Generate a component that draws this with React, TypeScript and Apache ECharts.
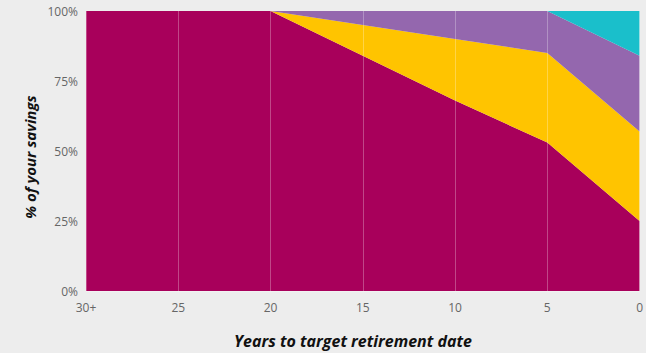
import React, { useEffect, useRef } from "react";
import * as echarts from "echarts";

const years = ["30+", "25", "20", "15", "10", "5", "0"];
const growth = [100, 100, 100, 84, 68, 53, 25];
const balanced = [0, 0, 0, 11, 22, 32, 32];
const income = [0, 0, 0, 5, 10, 15, 27];
const cash = [0, 0, 0, 0, 0, 0, 16];
const yTicks = [0, 25, 50, 75, 100];

const colors = ["#A8005B", "#FFC400", "#9467AE", "#1ABFCB"];

export default function App() {
  const ref = useRef<HTMLDivElement>(null);
  useEffect(() => {
    if (!ref.current) return;
    document.body.style.margin = "0";
    const chart = echarts.init(ref.current, null, { renderer: "svg" });
    const font = "Open Sans";
    const mk = (name: string, data: number[], color: string) => ({
      name,
      type: "line",
      stack: "total",
      data,
      symbol: "none",
      lineStyle: { width: 0 },
      areaStyle: { color, opacity: 1 },
      itemStyle: { color },
    });
    chart.setOption({
      animation: false,
      backgroundColor: "#EDEDED",
      grid: { left: 86, right: 3, top: 11, bottom: 62, containLabel: false },
      xAxis: {
        type: "category",
        data: years,
        boundaryGap: false,
        axisLine: { show: false },
        axisTick: { show: false },
        axisLabel: { color: "#666", fontFamily: font, fontSize: 12, margin: 10 },
        splitLine: { show: true, lineStyle: { color: "rgba(255,255,255,0.28)", width: 1 } },
        z: 10,
      },
      yAxis: {
        type: "value",
        min: 0,
        max: 100,
        interval: 25,
        axisLine: { show: false },
        axisTick: { show: false },
        axisLabel: {
          color: "#666",
          fontFamily: font,
          fontSize: 12,
          margin: 8,
          formatter: (v: number) => (yTicks.includes(v) ? v + "%" : ""),
        },
        splitLine: { show: true, lineStyle: { color: "rgba(255,255,255,0.28)", width: 1 } },
      },
      series: [
        mk("Growth", growth, colors[0]),
        mk("Balanced", balanced, colors[1]),
        mk("Income", income, colors[2]),
        mk("Cash", cash, colors[3]),
      ],
      graphic: [
        {
          type: "text",
          x: 353,
          y: 341,
          style: {
            text: "Years to target retirement date",
            fontFamily: font,
            fontSize: 16,
            fontWeight: "bold",
            fontStyle: "italic",
            fill: "#111",
            align: "center",
            verticalAlign: "middle",
          },
        },
        {
          type: "text",
          x: 30,
          y: 157,
          rotation: Math.PI / 2,
          style: {
            text: "% of your savings",
            fontFamily: font,
            fontSize: 15,
            fontWeight: "bold",
            fontStyle: "italic",
            fill: "#111",
            align: "center",
            verticalAlign: "middle",
          },
        },
      ],
    });
    return () => chart.dispose();
  }, []);
  return <div ref={ref} style={{ width: 646, height: 353 }} />;
}
